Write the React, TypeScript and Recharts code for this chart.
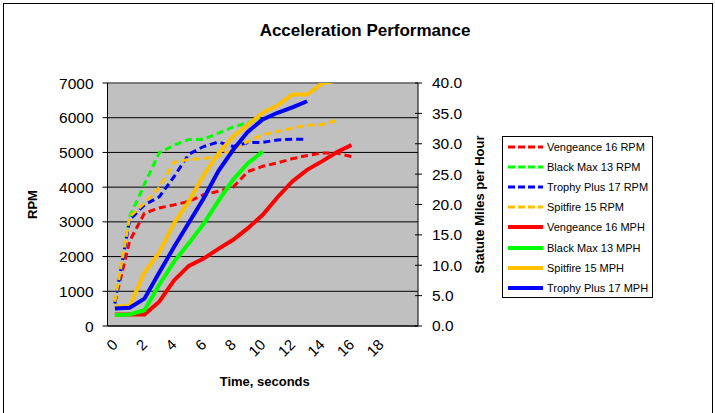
import React from 'react';
import {
  LineChart,
  Line,
  XAxis,
  YAxis,
  CartesianGrid,
  Legend,
  ReferenceLine,
} from 'recharts';

// time in seconds, one sample per second
const times = [0, 1, 2, 3, 4, 5, 6, 7, 8, 9, 10, 11, 12, 13, 14, 15, 16];
const timeTicks = [0, 2, 4, 6, 8, 10, 12, 14, 16, 18];
const rpmTicks = [0, 1000, 2000, 3000, 4000, 5000, 6000, 7000];
const mphTicks = [0, 5, 10, 15, 20, 25, 30, 35, 40];

const vengeanceRpm = [680, 2450, 3250, 3400, 3490, 3590, 3780, 3880, 4000, 4450, 4600, 4700, 4820, 4910, 4980, 4980, 4880];
const blackMaxRpm = [650, 3150, 4080, 4990, 5210, 5370, 5380, 5555, 5735, 5860, 5960];
const trophyPlusRpm = [650, 3060, 3490, 3720, 4300, 4950, 5170, 5300, 5170, 5285, 5290, 5360, 5380, 5380];
const spitfireRpm = [700, 3150, 3540, 3990, 4720, 4800, 4825, 4890, 5085, 5320, 5510, 5605, 5700, 5780, 5800, 5920];

const vengeanceMph = [1.9, 1.9, 1.9, 4.0, 7.5, 9.9, 11.1, 12.7, 14.2, 16.1, 18.3, 21.2, 23.8, 25.7, 27.1, 28.6, 29.8];
const blackMaxMph = [1.8, 1.9, 2.6, 6.8, 10.6, 13.6, 16.8, 20.6, 24.1, 26.8, 28.7];
const spitfireMph = [3.2, 3.3, 8.8, 12.1, 16.9, 20.5, 24.8, 28.4, 31.2, 33.1, 35.1, 36.3, 38.1, 38.1, 39.9, 40.4];
const trophyPlusMph = [2.9, 3.0, 4.5, 8.8, 13.0, 17.0, 21.0, 25.5, 29.0, 32.0, 34.0, 35.1, 36.0, 37.0];

const series = [
  { key: 'vRpm', name: 'Vengeance 16 RPM', values: vengeanceRpm, color: '#FF0000', axis: 'rpm', dashed: true },
  { key: 'bRpm', name: 'Black Max 13 RPM', values: blackMaxRpm, color: '#00FF00', axis: 'rpm', dashed: true },
  { key: 'tRpm', name: 'Trophy Plus 17 RPM', values: trophyPlusRpm, color: '#0000FF', axis: 'rpm', dashed: true },
  { key: 'sRpm', name: 'Spitfire 15 RPM', values: spitfireRpm, color: '#FFC000', axis: 'rpm', dashed: true },
  { key: 'vMph', name: 'Vengeance 16 MPH', values: vengeanceMph, color: '#FF0000', axis: 'mph', dashed: false },
  { key: 'bMph', name: 'Black Max 13 MPH', values: blackMaxMph, color: '#00FF00', axis: 'mph', dashed: false },
  { key: 'sMph', name: 'Spitfire 15 MPH', values: spitfireMph, color: '#FFC000', axis: 'mph', dashed: false },
  { key: 'tMph', name: 'Trophy Plus 17 MPH', values: trophyPlusMph, color: '#0000FF', axis: 'mph', dashed: false },
];

const data = times.map((t, i) => {
  const row: Record<string, number | undefined> = { t };
  series.forEach((s) => {
    row[s.key] = s.values[i];
  });
  return row;
});

const FONT = "Arial, 'Liberation Sans', sans-serif";

const LegendBox = () => (
  <div
    style={{
      border: '1px solid #000',
      background: '#fff',
      width: 149,
      height: 160,
      fontFamily: FONT,
      fontSize: 11,
      color: '#000',
      boxSizing: 'content-box',
    }}
  >
    {series.map((s) => (
      <div
        key={s.key}
        style={{ display: 'flex', alignItems: 'center', height: 20.1, whiteSpace: 'nowrap' }}
      >
        <svg width={44} height={8} style={{ flex: 'none' }}>
          <line
            x1={5}
            x2={40}
            y1={4}
            y2={4}
            stroke={s.color}
            strokeWidth={s.dashed ? 3 : 4}
            strokeDasharray={s.dashed ? '7 3' : undefined}
          />
        </svg>
        <span>{s.name}</span>
      </div>
    ))}
  </div>
);

// rotated time labels, ending just below the category they name
const TimeTick = (props: any) => {
  const { x, y, payload } = props;
  const ax = x;
  const ay = y + 15;
  return (
    <text x={ax} y={ay} dy="0.35em" textAnchor="end" transform={`rotate(-45 ${ax} ${ay})`}
      fontFamily={FONT} fontSize={15} fill="#000">
      {payload.value}
    </text>
  );
};

// right axis ticks cross the axis line, as in Excel
const MphTick = (props: any) => {
  const { x, y, payload } = props;
  const axisX = x - 14;
  return (
    <g>
      <line x1={axisX - 3} x2={axisX} y1={y} y2={y} stroke="#000" />
      <text x={x} y={y} dy="0.35em" textAnchor="start" fontFamily={FONT} fontSize={15.5} fill="#000">
        {Number(payload.value).toFixed(1)}
      </text>
    </g>
  );
};

const RpmTitle = (props: any) => {
  const { viewBox } = props;
  const x = viewBox.x + 32;
  const y = viewBox.y + viewBox.height / 2;
  return (
    <text x={x} y={y} transform={`rotate(-90 ${x} ${y})`} textAnchor="middle" dominantBaseline="central"
      fontFamily={FONT} fontSize={13} fontWeight="bold" fill="#000">
      RPM
    </text>
  );
};

const MphTitle = (props: any) => {
  const { viewBox } = props;
  const x = viewBox.x + 61;
  const y = viewBox.y + viewBox.height / 2;
  return (
    <text x={x} y={y} transform={`rotate(-90 ${x} ${y})`} textAnchor="middle" dominantBaseline="central"
      fontFamily={FONT} fontSize={13} fontWeight="bold" fill="#000">
      Statute Miles per Hour
    </text>
  );
};

const TimeTitle = (props: any) => {
  const { viewBox } = props;
  const x = viewBox.x + viewBox.width / 2 + 2;
  const y = viewBox.y + 54;
  return (
    <text x={x} y={y} textAnchor="middle" dominantBaseline="central"
      fontFamily={FONT} fontSize={13} fontWeight="bold" fill="#000">
      Time, seconds
    </text>
  );
};

const App = () => {
  return (
    <div style={{ position: 'absolute', left: 0, top: 0, width: 715, height: 413, background: '#fff', overflow: 'hidden' }}>
      <div
        style={{
          position: 'absolute',
          left: 3,
          top: 3,
          width: 708,
          height: 430,
          border: '1px solid #000',
        }}
      />
      <div
        style={{
          position: 'absolute',
          left: 0,
          top: 21,
          width: 730,
          textAlign: 'center',
          fontFamily: FONT,
          fontSize: 17,
          fontWeight: 'bold',
          color: '#000',
        }}
      >
        Acceleration Performance
      </div>
      <div style={{ position: 'absolute', left: 0, top: 0 }}>
        <LineChart
          width={715}
          height={413}
          data={data}
          margin={{ top: 83, right: 237, bottom: 85, left: 0 }}
          style={{ fontFamily: FONT }}
        >
          <CartesianGrid yAxisId="rpm" vertical={false} stroke="#000" fill="#C0C0C0" ticks={rpmTicks} />
          <ReferenceLine yAxisId="rpm" y={7000} stroke="#808080" strokeWidth={1.5} />
          <XAxis
            xAxisId="marks"
            dataKey="t"
            type="number"
            domain={[-0.5, 20.5]}
            ticks={[-0.5, 0.5, 1.5, 2.5, 3.5, 4.5, 5.5, 6.5, 7.5, 8.5, 9.5, 10.5, 11.5, 12.5, 13.5, 14.5, 15.5, 16.5, 17.5, 18.5, 19.5, 20.5]}
            tick={false}
            tickSize={5}
            height={1}
            axisLine={{ stroke: '#000' }}
            tickLine={{ stroke: '#000' }}
            interval={0}
          />
          <XAxis
            xAxisId="time"
            dataKey="t"
            type="number"
            domain={[-0.5, 20.5]}
            ticks={timeTicks}
            interval={0}
            height={1}
            axisLine={false}
            tickLine={false}
            tickSize={0}
            tickMargin={0}
            tick={<TimeTick />}
            label={<TimeTitle />}
          />
          <YAxis
            yAxisId="rpm"
            domain={[0, 7000]}
            ticks={rpmTicks}
            interval={0}
            width={107.5}
            axisLine={{ stroke: '#000' }}
            tickLine={{ stroke: '#000' }}
            tickSize={5}
            tickMargin={9}
            tick={{ fontSize: 15.5, fill: '#000', fontFamily: FONT }}
            label={<RpmTitle />}
          />
          <YAxis
            yAxisId="mph"
            orientation="right"
            domain={[0, 40]}
            allowDataOverflow
            ticks={mphTicks}
            interval={0}
            width={60}
            axisLine={{ stroke: '#000' }}
            tickLine={{ stroke: '#000' }}
            tickSize={4}
            tickMargin={10}
            tick={<MphTick />}
            label={<MphTitle />}
          />
          <Legend
            layout="vertical"
            align="center"
            verticalAlign="middle"
            content={() => <LegendBox />}
            wrapperStyle={{ left: 502, top: 136, width: 151, height: 162 }}
          />
          {series.map((s) => (
            <Line
              key={s.key}
              xAxisId="time"
              yAxisId={s.axis}
              type="linear"
              dataKey={s.key}
              name={s.name}
              stroke={s.color}
              strokeWidth={s.dashed ? 3 : 4}
              strokeDasharray={s.dashed ? '7 4' : undefined}
              dot={false}
              activeDot={false}
              isAnimationActive={false}
            />
          ))}
        </LineChart>
      </div>
    </div>
  );
};

export default App;
